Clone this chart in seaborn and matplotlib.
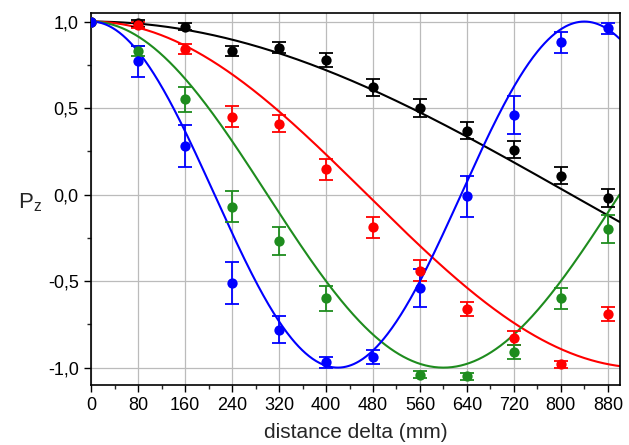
import numpy as np
import pandas as pd
import matplotlib
matplotlib.use("Agg")
import matplotlib.pyplot as plt
from matplotlib.ticker import MultipleLocator, FuncFormatter
import seaborn as sns

sns.set_theme(style="white")
plt.rcParams['font.family'] = ['Liberation Sans', 'DejaVu Sans']
plt.rcParams['mathtext.fontset'] = 'custom'
plt.rcParams['mathtext.rm'] = 'Liberation Sans'

x_pos = [0, 80, 160, 240, 320, 400, 480, 560, 640, 720, 800, 880]

black_y = [1.0, 0.99, 0.97, 0.83, 0.85, 0.78, 0.62, 0.50, 0.37, 0.26, 0.11, -0.02]
black_e = [0.0, 0.02, 0.02, 0.03, 0.03, 0.04, 0.05, 0.05, 0.05, 0.05, 0.05, 0.05]

red_y = [1.0, 0.98, 0.84, 0.45, 0.41, 0.145, -0.19, -0.44, -0.66, -0.83, -0.98, -0.69]
red_e = [0.0, 0.02, 0.03, 0.06, 0.05, 0.06, 0.06, 0.06, 0.04, 0.04, 0.02, 0.04]

green_x = [0, 80, 160, 240, 320, 400, 560, 640, 720, 800, 880]
green_y = [1.0, 0.83, 0.55, -0.07, -0.27, -0.60, -1.04, -1.05, -0.91, -0.60, -0.20]
green_e = [0.0, 0.03, 0.07, 0.09, 0.08, 0.07, 0.02, 0.02, 0.04, 0.06, 0.08]

blue_y = [1.0, 0.77, 0.28, -0.51, -0.78, -0.97, -0.94, -0.54, -0.01, 0.46, 0.88, 0.96]
blue_e = [0.0, 0.09, 0.12, 0.12, 0.08, 0.03, 0.04, 0.11, 0.12, 0.11, 0.06, 0.03]

# fitted cosine periods (mm) for the model curves
fit_period = {"black": 3270, "red": 1880, "green": 1200, "blue": 840}

series = [
    ("black", "black", x_pos, black_y, black_e),
    ("red", "#ff0000", x_pos, red_y, red_e),
    ("green", "#1e8c1e", green_x, green_y, green_e),
    ("blue", "#0000ff", x_pos, blue_y, blue_e),
]

fig = plt.figure(figsize=(6.29, 4.45), dpi=100)
ax = fig.add_axes([0.145, 0.135, 0.84, 0.836])

xs = np.linspace(0, 900, 600)
for name, col, xv, yv, ev in series:
    T = fit_period[name]
    curve = pd.DataFrame({"x": xs, "y": np.cos(2 * np.pi * xs / T)})
    sns.lineplot(data=curve, x="x", y="y", color=col, lw=1.5, ax=ax, zorder=2)
    ax.errorbar(xv, yv, yerr=ev, fmt='none', ecolor=col, elinewidth=1.3,
                capsize=5, capthick=1.3, zorder=3)
    pts = pd.DataFrame({"x": xv, "y": yv})
    sns.scatterplot(data=pts, x="x", y="y", color=col, s=55, edgecolor=col,
                    linewidth=0, ax=ax, zorder=4)

ax.set_xlim(0, 900)
ax.set_ylim(-1.1, 1.05)
ax.xaxis.set_major_locator(MultipleLocator(80))
ax.xaxis.set_minor_locator(MultipleLocator(40))
ax.yaxis.set_major_locator(MultipleLocator(0.5))
ax.yaxis.set_minor_locator(MultipleLocator(0.25))
ax.yaxis.set_major_formatter(FuncFormatter(lambda v, p: f"{v:.1f}".replace('.', ',')))
ax.grid(True, which='major', color='#bbbbbb', lw=0.9)
ax.tick_params(which='major', direction='out', length=5, width=1, labelsize=13,
               bottom=True, left=True, colors='black', pad=4)
ax.tick_params(which='minor', direction='out', length=3, width=1, bottom=True, left=True)
for s in ax.spines.values():
    s.set_color('black')
    s.set_linewidth(1.2)
ax.set_xlabel("distance delta (mm)", fontsize=15, labelpad=6)
ax.set_ylabel(r"P$_\mathrm{z}$", fontsize=16, rotation=0)
ax.yaxis.set_label_coords(-0.115, 0.46)

fig.savefig("out.png", dpi=100)
